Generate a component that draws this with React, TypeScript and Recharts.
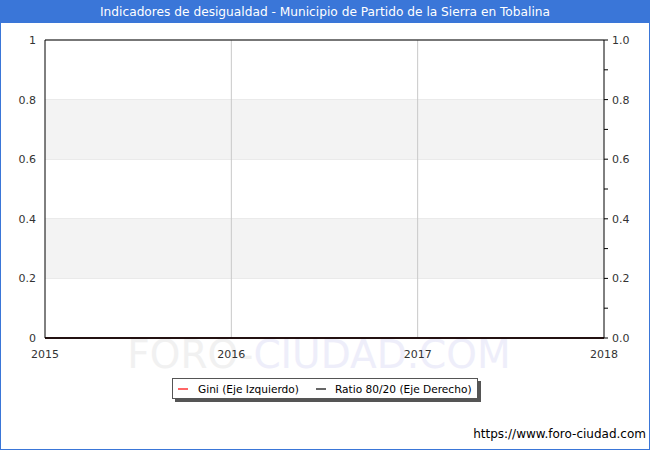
import React from 'react'
import { LineChart, Line, XAxis, YAxis, CartesianGrid, ReferenceArea, ReferenceLine } from 'recharts'

const years = [2015, 2016, 2017, 2018]
const giniValues = [0, 0, 0, 0]
const ratioValues = [0, 0, 0, 0]
const leftTicks = [0, 0.2, 0.4, 0.6, 0.8, 1]
const rightTicks = [0, 0.1, 0.2, 0.3, 0.4, 0.5, 0.6, 0.7, 0.8, 0.9, 1]
const bands = [
  [0.2, 0.4],
  [0.6, 0.8],
]
const seriesNames = ['Gini (Eje Izquierdo)', 'Ratio 80/20 (Eje Derecho)']
const title = 'Indicadores de desigualdad - Municipio de Partido de la Sierra en Tobalina'

const data = years.map((year, i) => ({ year, gini: giniValues[i], ratio: ratioValues[i] }))

const font = '"DejaVu Sans", Verdana, sans-serif'

function RightTick(props: any) {
  const { x, y, payload } = props
  const v = payload.value
  const show = Math.round(v * 10) % 2 === 0
  if (!show) return null
  return (
    <text x={x} y={y} dy={4} fontSize={11} fill="#333" fontFamily={font} textAnchor="start">
      {v.toFixed(1)}
    </text>
  )
}

export default function App() {
  return (
    <div
      style={{
        position: 'absolute',
        left: 0,
        top: 0,
        width: 650,
        height: 450,
        background: '#fff',
        boxSizing: 'border-box',
        border: '1px solid #3a76d8',
        fontFamily: font,
        overflow: 'hidden',
      }}
    >
      <div
        style={{
          position: 'absolute',
          left: 0,
          top: 0,
          width: 648,
          height: 22,
          background: '#3a76d8',
          color: '#fff',
          fontSize: 12.2,
          lineHeight: '22px',
          textAlign: 'center',
          whiteSpace: 'nowrap',
        }}
      >
        {title}
      </div>
      <div
        style={{
          position: 'absolute',
          left: 0,
          top: 334,
          width: 636,
          textAlign: 'center',
          fontSize: 39,
          lineHeight: '40px',
          fontFamily: font,
          whiteSpace: 'nowrap',
        }}
      >
        <span style={{ color: '#f1f1f1' }}>FORO-</span>
        <span style={{ color: '#eeeefa' }}>CIUDAD.COM</span>
      </div>
      <div style={{ position: 'absolute', left: -1, top: -1 }}>
        <LineChart width={650} height={450} data={data} margin={{ top: 40, right: 0, bottom: 92, left: 0 }}>
          {bands.map(([a, b], i) => (
            <ReferenceArea key={i} yAxisId="left" y1={a} y2={b} fill="#f3f3f3" fillOpacity={1} stroke="none" ifOverflow="hidden" />
          ))}
          <CartesianGrid yAxisId="left" stroke="#dddddd" vertical={false} />
          {years.slice(1, -1).map((y) => (
            <ReferenceLine key={y} yAxisId="left" x={y} stroke="#c8c8c8" />
          ))}
          <ReferenceLine yAxisId="left" y={1} stroke="#000" />
          <XAxis
            dataKey="year"
            type="number"
            domain={[2015, 2018]}
            ticks={years}
            tickLine={false}
            axisLine={{ stroke: '#000', strokeWidth: 1.5 }}
            tick={{ fontSize: 11, fill: '#333', fontFamily: font }}
            tickMargin={6}
            height={20}
            interval={0}
          />
          <YAxis
            yAxisId="left"
            domain={[0, 1]}
            ticks={leftTicks}
            tickFormatter={(v: number) => String(v)}
            tickLine={false}
            tickSize={0}
            tickMargin={9}
            axisLine={{ stroke: '#000' }}
            tick={{ fontSize: 11, fill: '#333', fontFamily: font }}
            width={45}
            interval={0}
          />
          <YAxis
            yAxisId="right"
            orientation="right"
            domain={[0, 1]}
            ticks={rightTicks}
            tickLine={{ stroke: '#000' }}
            tickSize={4}
            tickMargin={4}
            axisLine={{ stroke: '#000' }}
            tick={<RightTick />}
            width={46}
            interval={0}
          />
          <Line yAxisId="right" dataKey="ratio" stroke="#000" strokeWidth={1} dot={false} isAnimationActive={false} />
          <Line yAxisId="left" dataKey="gini" stroke="#a01010" strokeWidth={1} dot={false} isAnimationActive={false} />
        </LineChart>
      </div>
      <div
        style={{
          position: 'absolute',
          left: 171,
          top: 377,
          width: 306,
          height: 21,
          border: '1px solid #555',
          background: '#fff',
          boxShadow: '3px 3px 0 #555',
          fontSize: 10.6,
          color: '#000',
          display: 'flex',
          alignItems: 'center',
          boxSizing: 'border-box',
          whiteSpace: 'nowrap',
        }}
      >
        <span style={{ display: 'inline-block', width: 10, height: 2, background: '#ff6666', marginLeft: 5, marginRight: 10 }} />
        <span>{seriesNames[0]}</span>
        <span style={{ display: 'inline-block', width: 10, height: 2, background: '#666', marginLeft: 17, marginRight: 9 }} />
        <span>{seriesNames[1]}</span>
      </div>
      <div style={{ position: 'absolute', right: 3, top: 426, fontSize: 12, color: '#000' }}>https://www.foro-ciudad.com</div>
    </div>
  )
}
